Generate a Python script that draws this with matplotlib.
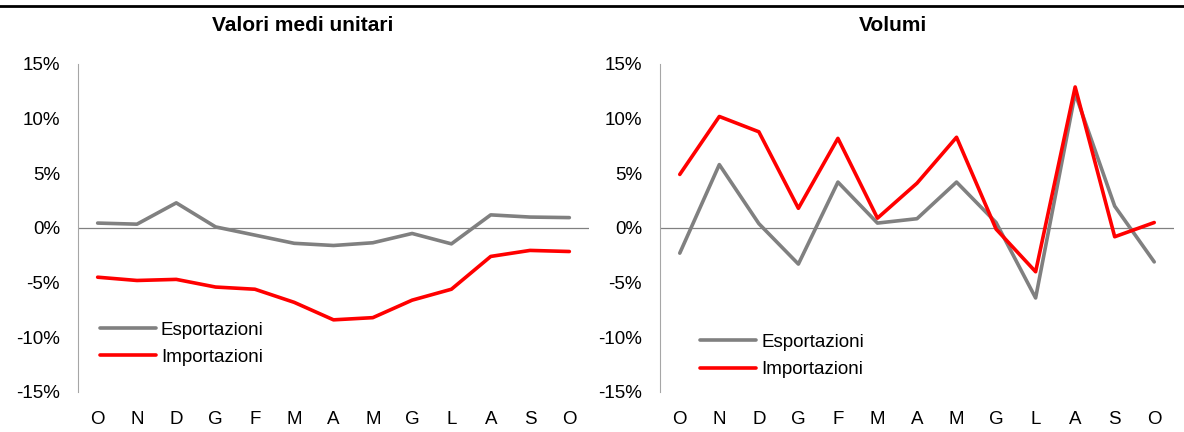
import matplotlib.pyplot as plt
from matplotlib.ticker import FuncFormatter
import numpy as np

plt.rcParams['font.family'] = ['Liberation Sans', 'DejaVu Sans']

mesi = ['O', 'N', 'D', 'G', 'F', 'M', 'A', 'M', 'G', 'L', 'A', 'S', 'O']

# valori medi unitari (%)
vmu_esp = [0.45, 0.35, 2.3, 0.1, -0.65, -1.4, -1.6, -1.35, -0.5, -1.45, 1.2, 1.0, 0.95]
vmu_imp = [-4.5, -4.8, -4.7, -5.4, -5.6, -6.8, -8.4, -8.2, -6.6, -5.6, -2.6, -2.05, -2.15]

# volumi (%)
vol_esp = [-2.3, 5.8, 0.4, -3.3, 4.2, 0.45, 0.85, 4.2, 0.5, -6.4, 12.3, 2.0, -3.1]
vol_imp = [4.9, 10.2, 8.8, 1.8, 8.2, 0.9, 4.1, 8.3, -0.1, -4.0, 12.9, -0.8, 0.5]

fig = plt.figure(figsize=(11.84, 4.32), dpi=100)

def pannello(rect, esp, imp, legpos):
    ax = fig.add_axes(rect)
    x = np.arange(len(mesi))
    ax.plot(x, esp, color='#808080', lw=2.6, label='Esportazioni', solid_capstyle='round')
    ax.plot(x, imp, color='#ff0000', lw=2.6, label='Importazioni', solid_capstyle='round')
    ax.axhline(0, color='#808080', lw=0.9, zorder=0)
    ax.set_xlim(-0.5, 12.5)
    ax.set_ylim(-15, 15)
    ax.set_yticks(np.arange(-15, 16, 5))
    ax.yaxis.set_major_formatter(FuncFormatter(lambda v, p: '%d%%' % v))
    ax.set_xticks(x)
    ax.set_xticklabels(mesi)
    for s in ['top', 'right', 'bottom']:
        ax.spines[s].set_visible(False)
    ax.spines['left'].set_color('#a6a6a6')
    ax.tick_params(axis='y', length=0, pad=13, labelsize=13.5)
    ax.tick_params(axis='x', length=0, pad=14, labelsize=13.5)
    ax.legend(loc='upper left', bbox_to_anchor=legpos, frameon=False, fontsize=13.5,
              handlelength=3.0, handletextpad=0.25, labelspacing=0.55, borderpad=0,
              borderaxespad=0)
    return ax

pannello([78/1184, 40/432, 511/1184, 328/432], vmu_esp, vmu_imp, (0.043, 0.215))
pannello([660/1184, 40/432, 514/1184, 328/432], vol_esp, vol_imp, (0.078, 0.178))

fig.text(0.256, 0.94, 'Valori medi unitari', ha='center', va='center', fontsize=15, fontweight='bold')
fig.text(0.754, 0.94, 'Volumi', ha='center', va='center', fontsize=15, fontweight='bold')
fig.add_artist(plt.Line2D([0, 1], [0.987, 0.987], color='black', lw=2, transform=fig.transFigure))

fig.savefig('out.png', dpi=100)
